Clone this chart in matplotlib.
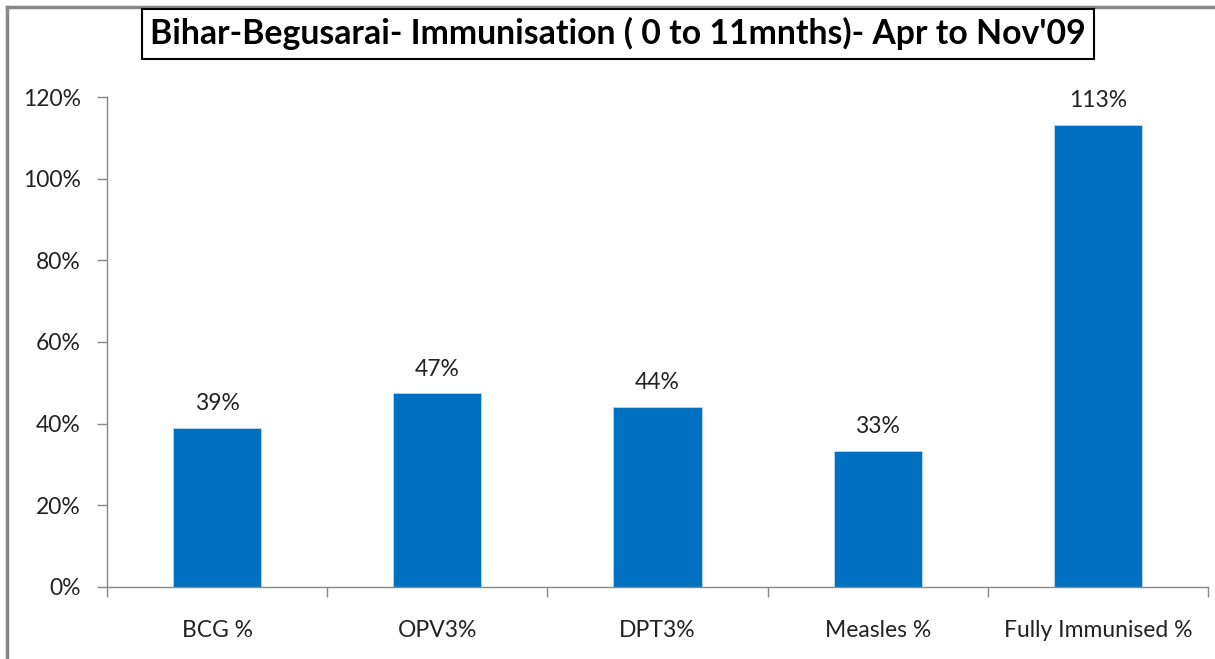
import matplotlib.pyplot as plt
import numpy as np
from matplotlib.ticker import MultipleLocator, FuncFormatter, FixedLocator

categories = ['BCG %', 'OPV3%', 'DPT3%', 'Measles %', 'Fully Immunised %']
values = [38.9, 47.4, 44.1, 33.3, 113.2]
labels = ['39%', '47%', '44%', '33%', '113%']
title = "Bihar-Begusarai- Immunisation ( 0 to 11mnths)- Apr to Nov'09"

plt.rcParams['font.family'] = ['Lato', 'DejaVu Sans']

fig = plt.figure(figsize=(12.15, 6.59), dpi=100)
ax = fig.add_axes([0.0881, 0.1093, 0.9061, 0.7435])

x = np.arange(len(categories))
ax.bar(x, values, width=0.4, color='#0070C0', edgecolor='#BDD7EE', linewidth=0.6)

for xi, v, lab in zip(x, values, labels):
    ax.annotate(lab, (xi, v), xytext=(0, 10), textcoords='offset points',
                ha='center', va='bottom', fontsize=16.5, color='#222222')

ax.set_xlim(-0.5, len(categories) - 0.5)
ax.set_ylim(0, 120)
ax.yaxis.set_major_locator(MultipleLocator(20))
ax.yaxis.set_major_formatter(FuncFormatter(lambda v, p: f'{v:.0f}%'))
ax.xaxis.set_major_locator(FixedLocator(x))
ax.set_xticklabels(categories)
ax.xaxis.set_minor_locator(FixedLocator(np.arange(len(categories) + 1) - 0.5))
ax.tick_params(axis='x', which='major', length=0, pad=24, labelsize=16.5, labelcolor='#222222')
ax.tick_params(axis='x', which='minor', length=7, color='#888888', width=1)
ax.tick_params(axis='y', length=7, color='#888888', width=1, pad=12, labelsize=16.5, labelcolor='#222222')

for s in ['top', 'right']:
    ax.spines[s].set_visible(False)
for s in ['left', 'bottom']:
    ax.spines[s].set_color('#888888')
    ax.spines[s].set_linewidth(1)

fig.text(0.5086, 0.949, title, ha='center', va='center', fontsize=24.3, fontweight='bold',
         bbox=dict(boxstyle='square,pad=0.25', facecolor='white', edgecolor='black', linewidth=1.5))

# outer frame (top and left visible)
fig.add_artist(plt.Line2D([0.0058, 0.0058], [0, 0.9894], color='#888888', lw=2.5, transform=fig.transFigure))
fig.add_artist(plt.Line2D([0.0058, 1], [0.9894, 0.9894], color='#888888', lw=2.5, transform=fig.transFigure))

plt.savefig('out.png', dpi=100)
